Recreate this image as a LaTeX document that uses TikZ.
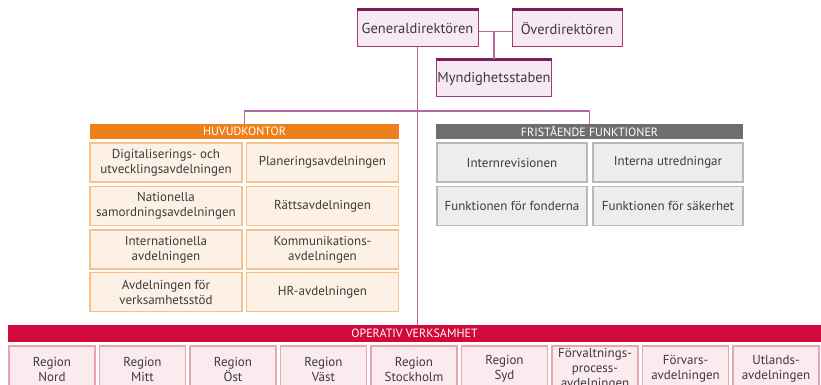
\documentclass[tikz,border=0pt]{standalone}
\usepackage{fontspec}
\setmainfont{PT Sans}
\usetikzlibrary{positioning}
\definecolor{ledline}{HTML}{B2689C}
\definecolor{ledborder}{HTML}{9C3B7C}
\definecolor{ledtop}{HTML}{7D1D5E}
\definecolor{ledfill}{HTML}{F6E9F2}
\definecolor{hkbar}{HTML}{EE7F1B}
\definecolor{hkborder}{HTML}{F7C08C}
\definecolor{hkfill}{HTML}{FDF1E6}
\definecolor{ffbar}{HTML}{6E6E6E}
\definecolor{ffborder}{HTML}{B9B9B9}
\definecolor{fffill}{HTML}{EDEDED}
\definecolor{opbar}{HTML}{D20A3C}
\definecolor{opborder}{HTML}{EAA3B3}
\definecolor{opfill}{HTML}{FBEAEE}
\definecolor{textgray}{HTML}{3C3C3C}
\tikzset{
    x=1pt, y=-1pt,
    on grid,
    box/.style={draw, align=center, text=textgray, inner sep=1pt,
        font=\fontsize{13}{15}\selectfont},
    ledbox/.style={box, draw=ledborder, fill=ledfill, line width=1pt,
        minimum height=37pt, font=\fontsize{14.5}{16}\selectfont},
    hkbox/.style={box, draw=hkborder, fill=hkfill, line width=1.2pt,
        minimum width=152pt, minimum height=39pt},
    ffbox/.style={box, draw=ffborder, fill=fffill, line width=1.2pt,
        minimum width=150pt, minimum height=39pt},
    opbox/.style={box, draw=opborder, fill=opfill, line width=1.4pt,
        minimum width=86pt, minimum height=46pt},
    bar/.style={text=white, inner sep=0pt, minimum height=15pt,
        font=\fontsize{12}{12}\selectfont},
    topline/.style={ledtop, line width=3pt},
    orgline/.style={ledline, line width=1.6pt},
}

\begin{document}
\begin{tikzpicture}
    \useasboundingbox (0,0) rectangle (821,385);
    \clip (0,0) rectangle (821,385);

    \node[ledbox, minimum width=121pt] (gd) at (417.5,28.5) {Generaldirektören};
    \node[ledbox, minimum width=110pt] (od) at (567,28.5) {Överdirektören};
    \node[ledbox, minimum width=110pt] (ms) at (494,78.5) {Myndighetsstaben};

    \node[bar, fill=hkbar, minimum width=309pt] (hk) at (244.5,131.5) {HUVUDKONTOR};
    \node[bar, fill=ffbar, minimum width=307pt] (ff) at (589.5,131.5) {FRISTÅENDE FUNKTIONER};
    \node[bar, fill=opbar, minimum width=813pt, minimum height=17pt] (op) at (414.5,333.5) {OPERATIV VERKSAMHET};

    \node[hkbox] (digit) at (166,162.5) {Digitaliserings- och\\utvecklingsavdelningen};
    \node[hkbox, right=156.5pt of digit] (plan) {Planeringsavdelningen};
    \node[hkbox, below=43.5pt of digit] (nat) {Nationella\\samordningsavdelningen};
    \node[hkbox, right=156.5pt of nat] (ratt) {Rättsavdelningen};
    \node[hkbox, below=43.5pt of nat] (intl) {Internationella\\avdelningen};
    \node[hkbox, right=156.5pt of intl] (komm) {Kommunikations-\\avdelningen};
    \node[hkbox, below=42.5pt of intl] (vstod) {Avdelningen för\\verksamhetsstöd};
    \node[hkbox, right=156.5pt of vstod] (hr) {HR-avdelningen};

    \node[ffbox] (irev) at (512,162.5) {Internrevisionen};
    \node[ffbox, right=156pt of irev] (iutr) {Interna utredningar};
    \node[ffbox, below=43.5pt of irev] (fond) {Funktionen för fonderna};
    \node[ffbox, right=156pt of fond] (sak) {Funktionen för säkerhet};

    \node[opbox] (nord) at (52,369) {Region\\Nord};
    \node[opbox, right=90.5pt of nord] (mitt) {Region\\Mitt};
    \node[opbox, right=90.5pt of mitt] (ost) {Region\\Öst};
    \node[opbox, right=90.5pt of ost] (vast) {Region\\Väst};
    \node[opbox, right=90.5pt of vast] (sthlm) {Region\\Stockholm};
    \node[opbox, right=90.5pt of sthlm] (syd) {Region\\Syd};
    \node[opbox, right=90.5pt of syd] (fpa) {Förvaltnings-\\process-\\avdelningen};
    \node[opbox, right=90.5pt of fpa] (forv) {Förvars-\\avdelningen};
    \node[opbox, right=90.5pt of forv] (utl) {Utlands-\\avdelningen};

    \foreach \n in {gd,od,ms}
        \draw[topline] (\n.north west) -- (\n.north east);

    \draw[orgline] ([yshift=-3pt]gd.east) -- ([yshift=-3pt]od.west);
    \draw[orgline] (ms.north) -- ([yshift=-3pt]ms.north |- gd.east);
    \draw[orgline] (gd.south) -- (gd.south |- op.north);
    \draw[orgline] (hk.north) -- ++(0,-13) -| (ff.north);
\end{tikzpicture}
\end{document}
